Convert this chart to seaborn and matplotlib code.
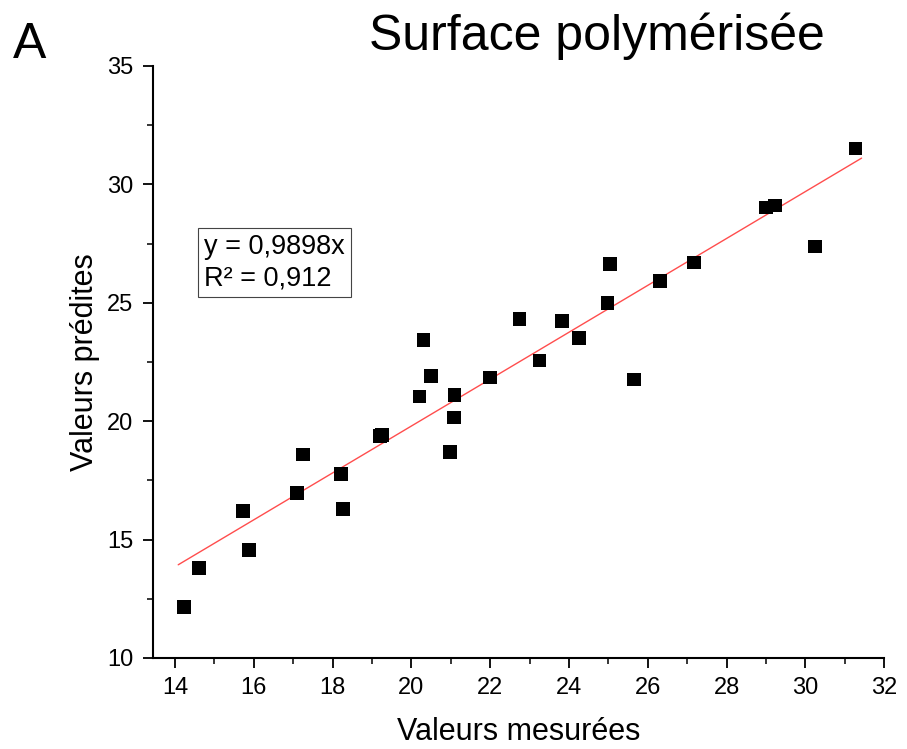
import numpy as np
import pandas as pd
import matplotlib
matplotlib.use("Agg")
import matplotlib.pyplot as plt
import seaborn as sns
from matplotlib.ticker import MultipleLocator

# --- DONNEES ---
mesurees = [14.23, 14.61, 15.73, 15.88, 17.10, 17.25, 18.21, 18.27, 19.20, 19.26,
            20.21, 20.31, 20.50, 21.10, 21.08, 20.98, 22.00, 22.74, 23.25, 23.82,
            24.26, 24.98, 25.04, 25.65, 26.31, 27.17, 29.00, 29.23, 30.25, 31.28]
predites = [12.15, 13.80, 16.20, 14.56, 16.97, 18.60, 17.77, 16.30, 19.38, 19.42,
            21.04, 23.43, 21.91, 21.11, 20.16, 18.70, 21.84, 24.32, 22.57, 24.23,
            23.51, 24.98, 26.64, 21.77, 25.92, 26.71, 29.03, 29.11, 27.37, 31.52]
pente = 0.9898
r2 = 0.912

df = pd.DataFrame({"mesurees": mesurees, "predites": predites})
x_fit = np.linspace(df["mesurees"].min() - 0.15, df["mesurees"].max() + 0.15, 50)
df_fit = pd.DataFrame({"x": x_fit, "y": pente * x_fit})

sns.set_theme(style="ticks")
plt.rcParams['font.family'] = ['Liberation Sans', 'DejaVu Sans']
plt.rcParams['text.color'] = 'black'
plt.rcParams['axes.labelcolor'] = 'black'

fig = plt.figure(figsize=(9.07, 7.49), dpi=100)
ax = fig.add_axes([0.1687, 0.1215, 0.806, 0.7904])

sns.lineplot(ax=ax, data=df_fit, x="x", y="y", color="#ff4d4d", linewidth=1.0)
sns.scatterplot(ax=ax, data=df, x="mesurees", y="predites", marker="s",
                color="black", s=95, edgecolor="none", zorder=3)

ax.set_xlim(13.44, 32)
ax.set_ylim(10, 35)
ax.xaxis.set_major_locator(MultipleLocator(2))
ax.xaxis.set_minor_locator(MultipleLocator(1))
ax.yaxis.set_major_locator(MultipleLocator(5))
ax.yaxis.set_minor_locator(MultipleLocator(2.5))
ax.tick_params(which="major", direction="out", length=7, width=1.3, labelsize=17,
               colors="black", pad=7)
ax.tick_params(which="minor", direction="out", length=4, width=1.1, colors="black")
for s in ["left", "bottom"]:
    ax.spines[s].set_linewidth(1.5)
    ax.spines[s].set_color("black")
sns.despine(ax=ax)

ax.set_xlabel("Valeurs mesurées", fontsize=22, labelpad=13)
ax.set_ylabel("Valeurs prédites", fontsize=22, labelpad=5)

ax.text(14.74, 27.9, f"y = {str(pente).replace('.', ',')}x\nR² = {str(r2).replace('.', ',')}",
        fontsize=19.5, va="top", ha="left", linespacing=1.25,
        bbox=dict(boxstyle="square,pad=0.22", facecolor="white", edgecolor="#444444", linewidth=0.8))

fig.text(0.658, 0.933, "Surface polymérisée", fontsize=36, ha="center", va="baseline")
fig.text(0.033, 0.9226, "A", fontsize=36, ha="center", va="baseline")

fig.savefig("out.png", dpi=100)
